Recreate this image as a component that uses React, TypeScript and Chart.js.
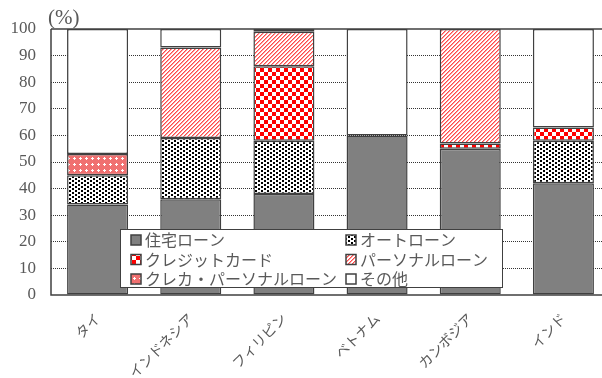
import React, { useEffect, useRef } from "react";
import { Chart, registerables } from "chart.js";

Chart.register(...registerables);

// 国別の家計債務の内訳（%）。該当なしの項目は null
const countries = ["タイ", "インドネシア", "フィリピン", "ベトナム", "カンボジア", "インド"];
const housingLoan = [34, 36, 38, 60, 55, 42];
const autoLoan = [11, 23, 20, null, null, 16];
const creditCard = [null, null, 28, null, 2, 5];
const personalLoan = [null, 34, 13, null, 43, null];
const cardPersonalLoan = [8, null, null, null, null, null];
const others = [47, 7, 1, 40, null, 37];
const seriesNames = [
  "住宅ローン",
  "オートローン",
  "クレジットカード",
  "パーソナルローン",
  "クレカ・パーソナルローン",
  "その他",
];
const yTicks = [0, 10, 20, 30, 40, 50, 60, 70, 80, 90, 100];

const TEXT_GRAY = "#595959";
const FRAME = "#404040";

function makePattern(w: number, h: number, paint: (c: CanvasRenderingContext2D) => void) {
  const cv = document.createElement("canvas");
  cv.width = w;
  cv.height = h;
  const c = cv.getContext("2d") as CanvasRenderingContext2D;
  paint(c);
  return c.createPattern(cv, "repeat") as CanvasPattern;
}

function buildFills(): (string | CanvasPattern)[] {
  const dots = makePattern(6, 4, (c) => {
    c.fillStyle = "#ffffff";
    c.fillRect(0, 0, 6, 4);
    c.fillStyle = "#000000";
    c.fillRect(0, 0, 2, 2);
    c.fillRect(3, 2, 2, 2);
  });
  const checker = makePattern(8, 8, (c) => {
    c.fillStyle = "#ffffff";
    c.fillRect(0, 0, 8, 8);
    c.fillStyle = "#ff0000";
    c.fillRect(0, 0, 4, 4);
    c.fillRect(4, 4, 4, 4);
  });
  const stripes = makePattern(4, 4, (c) => {
    c.fillStyle = "#ffffff";
    c.fillRect(0, 0, 4, 4);
    c.fillStyle = "#ff4a4a";
    for (let i = 0; i < 4; i++) c.fillRect(3 - i, i, 1, 1);
    c.fillStyle = "#ff9c9c";
    for (let i = 0; i < 4; i++) c.fillRect((4 - i) % 4, i, 1, 1);
  });
  const crosses = makePattern(6, 6, (c) => {
    c.fillStyle = "#f07070";
    c.fillRect(0, 0, 6, 6);
    c.fillStyle = "#ffffff";
    c.fillRect(2, 1, 1, 3);
    c.fillRect(1, 2, 3, 1);
  });
  return ["#808080", dots, checker, stripes, crosses, "#ffffff"];
}

// 軸の枠・単位・凡例を描くプラグイン
function makeFramePlugin(fills: (string | CanvasPattern)[]) {
  return {
    id: "frameAndLegend",
    afterDatasetsDraw(chart: any) {
      const { ctx, chartArea } = chart;
      const { left, top, right, bottom } = chartArea;
      ctx.save();
      ctx.strokeStyle = FRAME;
      ctx.lineWidth = 1.5;
      ctx.beginPath();
      ctx.moveTo(left, top);
      ctx.lineTo(left, bottom);
      ctx.lineTo(right, bottom);
      ctx.moveTo(left, top);
      ctx.lineTo(right, top);
      ctx.stroke();

      ctx.fillStyle = TEXT_GRAY;
      ctx.font = "21px 'Liberation Serif', serif";
      ctx.textAlign = "left";
      ctx.textBaseline = "alphabetic";
      ctx.fillText("(%)", left - 3, top - 5);

      const bx = left + 69;
      const by = top + 200;
      const bw = 382;
      const bh = 58;
      ctx.fillStyle = "#ffffff";
      ctx.fillRect(bx, by, bw, bh);
      ctx.lineWidth = 1;
      ctx.strokeStyle = FRAME;
      ctx.strokeRect(bx + 0.5, by + 0.5, bw, bh);

      ctx.font = "16px 'Noto Sans CJK JP', sans-serif";
      ctx.textBaseline = "middle";
      seriesNames.forEach((name, i) => {
        const col = i % 2;
        const row = Math.floor(i / 2);
        const sx = bx + 11 + col * 215;
        const sy = by + 11 + row * 19.5;
        ctx.fillStyle = fills[i];
        ctx.fillRect(sx, sy - 5, 10, 10);
        ctx.strokeStyle = FRAME;
        ctx.lineWidth = 1.5;
        ctx.strokeRect(sx, sy - 5, 10, 10);
        ctx.fillStyle = TEXT_GRAY;
        ctx.fillText(name, sx + 14, sy);
      });
      ctx.restore();
    },
  };
}

export default function App() {
  const ref = useRef<HTMLCanvasElement>(null);

  useEffect(() => {
    const canvas = ref.current;
    if (!canvas) return;
    const fills = buildFills();
    const seriesData = [housingLoan, autoLoan, creditCard, personalLoan, cardPersonalLoan, others];
    const chart = new Chart(canvas, {
      type: "bar",
      data: {
        labels: countries,
        datasets: seriesData.map((d, i) => ({
          label: seriesNames[i],
          data: d,
          backgroundColor: fills[i] as any,
          borderColor: FRAME,
          borderWidth: 1.5,
          borderSkipped: false,
          barPercentage: 0.655,
          categoryPercentage: 1,
        })),
      },
      options: {
        responsive: false,
        animation: false,
        devicePixelRatio: 1,
        layout: { padding: { top: 29, right: 10, left: 0, bottom: 0 } },
        plugins: { legend: { display: false }, tooltip: { enabled: false } },
        scales: {
          x: {
            stacked: true,
            grid: { display: false },
            border: { display: false },
            ticks: {
              color: TEXT_GRAY,
              font: { family: "'Noto Sans CJK JP', sans-serif", size: 14 },
              minRotation: 45,
              maxRotation: 45,
              autoSkip: false,
              padding: 7,
            },
            afterFit: (s: any) => {
              s.height = 83;
            },
          },
          y: {
            stacked: true,
            min: 0,
            max: 100,
            afterBuildTicks: (s: any) => {
              s.ticks = yTicks.map((v) => ({ value: v }));
            },
            grid: {
              color: (c: any) =>
                c.tick && (c.tick.value === 0 || c.tick.value === 100) ? "rgba(0,0,0,0)" : "#333333",
              lineWidth: 1,
              drawTicks: false,
            },
            border: { display: false, dash: [1, 1] },
            ticks: {
              color: TEXT_GRAY,
              font: { family: "'Liberation Serif', serif", size: 17 },
              padding: 15,
            },
            afterFit: (s: any) => {
              s.width = 51;
            },
          },
        },
      },
      plugins: [makeFramePlugin(fills)],
    });
    return () => chart.destroy();
  }, []);

  return (
    <div
      style={{
        position: "absolute",
        left: 0,
        top: 0,
        width: 602,
        height: 378,
        overflow: "hidden",
        background: "#ffffff",
      }}
    >
      <canvas ref={ref} width={620} height={378} style={{ display: "block" }} />
    </div>
  );
}
